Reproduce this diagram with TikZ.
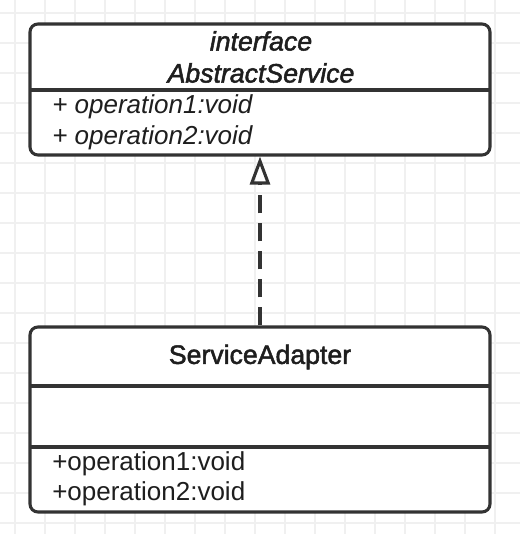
\documentclass[tikz,border=0pt]{standalone}
\usepackage{fontspec}
\setmainfont{Liberation Sans}
\newfontfamily\medfont{Liberation Sans}[FakeBold=1.8]
\newfontfamily\meditfont{Liberation Sans Italic}[FakeBold=1.8]
\usetikzlibrary{arrows.meta}
\definecolor{gridc}{HTML}{F0F0F0}
\definecolor{linec}{HTML}{333333}
\definecolor{textc}{HTML}{1E1E1E}
\tikzset{
  umlbox/.style={draw=linec, line width=2.3pt, rounded corners=6pt, fill=white, inner sep=0pt},
  divider/.style={draw=linec, line width=2.3pt},
  lbl/.style={inner sep=0pt, text=textc, font=\fontsize{19.5}{22}\selectfont},
  ilbl/.style={lbl, font=\fontsize{19.5}{22}\selectfont\itshape},
  tlbl/.style={lbl, font=\fontsize{20}{22}\medfont},
  itlbl/.style={lbl, font=\fontsize{20}{22}\meditfont},
  realize/.style={draw=linec, line width=2.3pt, dash pattern=on 13.5pt off 7.5pt,
     -{Triangle[open, length=21pt, width=15pt, line width=2.3pt]}}
}
\begin{document}
\begin{tikzpicture}[x=0.75pt, y=-0.75pt]
\useasboundingbox (0,0) rectangle (520,534);
\fill[white] (0,0) rectangle (520,534);
% grid
\foreach \gx in {15,45,...,515} \draw[gridc, line width=0.8pt] (\gx,0) -- (\gx,534);
\foreach \gy in {13,43,...,533} \draw[gridc, line width=0.8pt] (0,\gy) -- (520,\gy);
% interface box
\node[umlbox, minimum width=460*0.75pt, minimum height=131*0.75pt] (iface) at (260,89.5) {};
\draw[divider] (30,90) -- (490,90);
\node[itlbl] (ifkw) at (261,41) {interface};
\node[itlbl] (ifname) at (261,73) {AbstractService};
\node[ilbl, anchor=west] (ifop1) at (52,107) {+ operation1:void};
\node[ilbl, anchor=west] (ifop2) at (52,138) {+ operation2:void};
% adapter box
\node[umlbox, minimum width=460*0.75pt, minimum height=185*0.75pt] (adapter) at (260,419.5) {};
\draw[divider] (30,386) -- (490,386);
\draw[divider] (30,447) -- (490,447);
\node[tlbl] (adname) at (260,357) {ServiceAdapter};
\node[lbl, anchor=west] (adop1) at (52,464) {+operation1:void};
\node[lbl, anchor=west] (adop2) at (52,494) {+operation2:void};
% realization
\draw[realize] (adapter.north) -- (iface.south);
\end{tikzpicture}
\end{document}
